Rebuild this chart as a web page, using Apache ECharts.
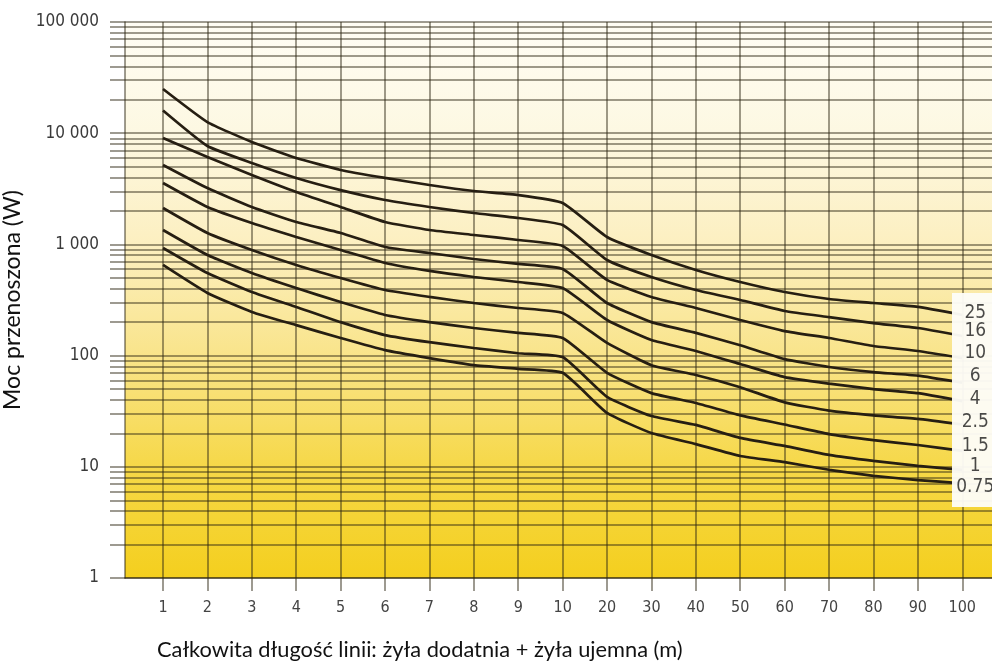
<!DOCTYPE html>
<html>
<head>
<meta charset="utf-8">
<script src="https://cdn.jsdelivr.net/npm/echarts@6/dist/echarts.min.js"></script>
<style>html,body{margin:0;padding:0;background:#fff}#c{width:992px;height:665px}</style>
</head>
<body>
<div id="c"></div>
<script>
// Categories (total line length, m)
const lengths = ['1','2','3','4','5','6','7','8','9','10','20','30','40','50','60','70','80','90','100'];
// Cable cross-sections (mm²) – curve labels
const sections = ['25','16','10','6','4','2.5','1.5','1','0.75'];
// Transmitted power (W) per cross-section
const p25   = [25000,12600,8340,5990,4670,3960,3420,3020,2780,2360,1165,803,589,459,373,323,297,274,232];
const p16   = [16000,7670,5400,3960,3080,2510,2170,1915,1727,1493,724,509,389,316,252,222,196,177,150];
const p10   = [9060,6110,4210,2960,2170,1590,1347,1215,1096,968,479,337,268,209,166,144,122,110,95];
const p6    = [5180,3210,2170,1590,1267,948,837,739,667,601,297,200,160,124,93,79,71,66,57];
const p4    = [3565,2170,1557,1167,891,681,577,509,459,405,209,138,110,84,64,56,50,46,39];
const p2_5  = [2125,1267,891,653,499,389,337,297,268,242,130,82,67,52,38,32,29,27,24];
const p1_5  = [1347,803,553,405,303,232,200,177,160,144,70,46,37.5,29,24,19.7,17.4,15.7,13.9];
const p1    = [929,553,373,274,200,153,132,117,105,97,42.5,28.6,23.8,18.2,15.4,12.8,11.3,10.2,9.4];
const p0_75 = [653,366,247,188,144,112,95,82,76,70,30.5,20.1,16.0,12.5,11.0,9.4,8.3,7.6,7.1];
// Y axis grid values and tick labels
const yGridValues = [1,2,3,4,5,6,7,8,9,10,20,30,40,50,60,70,80,90,100,200,300,400,500,600,700,800,900,
  1000,2000,3000,4000,5000,6000,7000,8000,9000,10000,20000,30000,40000,50000,60000,70000,80000,90000,100000];
const yLabelValues = [1,10,100,1000,10000,100000];
const yLabelTexts  = ['1','10','100','1 000','10 000','100 000'];

const allSeries = [p25,p16,p10,p6,p4,p2_5,p1_5,p1,p0_75];
const labelDy = [-2,-5,-5,-7,-2,-2,-5,-4,4];

const narrow = "'Liberation Sans Narrow','DejaVu Sans Condensed','Roboto Condensed',Roboto,sans-serif";
const gridColor = 'rgba(45,38,20,0.62)';
const xIdx = lengths.map((_, i) => i);

const chart = echarts.init(document.getElementById('c'), null, {renderer: 'canvas'});

const lineSeries = allSeries.map((arr, k) => ({
  type: 'line',
  name: sections[k],
  data: arr.map((v, i) => [i, v]),
  smooth: 0.15,
  symbol: 'none',
  lineStyle: {color: '#261e12', width: 2.7},
  z: 2,
  silent: true
}));

const labelSeries = {
  type: 'scatter',
  z: 10,
  symbolSize: 2,
  itemStyle: {color: 'rgba(0,0,0,0)'},
  silent: true,
  data: allSeries.map((arr, k) => ({
    name: sections[k],
    value: [lengths.length - 1, arr[arr.length - 1]],
    label: {position: [14, 1 + labelDy[k]]}
  })),
  label: {
    show: true,
    align: 'center',
    verticalAlign: 'middle',
    formatter: '{b}',
    color: '#1c1c1c',
    fontSize: 19,
    fontFamily: narrow
  },
  labelLayout: {hideOverlap: false}
};

chart.setOption({
  animation: false,
  backgroundColor: '#ffffff',
  grid: {
    left: 125, right: 0, top: 22, bottom: 87,
    containLabel: false,
    outerBoundsMode: 'none',
    show: true, borderWidth: 0,
    backgroundColor: {
      type: 'linear', x: 0, y: 0, x2: 0, y2: 1,
      colorStops: [
        {offset: 0, color: '#fffdf4'},
        {offset: 0.2, color: '#fdf8e2'},
        {offset: 0.4, color: '#fcefc0'},
        {offset: 0.6, color: '#f9e48a'},
        {offset: 0.8, color: '#f6d848'},
        {offset: 1, color: '#f4cf1e'}
      ]
    }
  },
  xAxis: {
    type: 'value',
    min: -0.856,
    max: 18.67,
    axisLine: {show: true, onZero: false, lineStyle: {color: gridColor, width: 1.5}},
    axisTick: {show: true, length: 13, customValues: xIdx, lineStyle: {color: gridColor, width: 1.5}},
    axisLabel: {
      customValues: xIdx,
      formatter: v => lengths[Math.round(v)],
      margin: 22,
      color: '#444',
      fontSize: 16,
      fontFamily: narrow
    },
    splitLine: {show: true, lineStyle: {color: gridColor, width: 1.5}}
  },
  yAxis: {
    type: 'log',
    logBase: 10,
    min: 1,
    max: 100000,
    name: 'Moc przenoszona (W)',
    nameLocation: 'middle',
    nameGap: 101,
    nameRotate: 90,
    nameTextStyle: {fontFamily: 'Lato, sans-serif', fontSize: 23, color: '#111'},
    axisLine: {show: true, onZero: false, lineStyle: {color: gridColor, width: 1.5}},
    axisTick: {show: true, length: 15, customValues: yGridValues, lineStyle: {color: gridColor, width: 1.5}},
    axisLabel: {
      customValues: yLabelValues,
      formatter: v => { const j = yLabelValues.indexOf(Math.round(v)); return j >= 0 ? yLabelTexts[j] : ''; },
      margin: 26,
      color: '#3a3a3a',
      fontSize: 17,
      fontFamily: narrow
    },
    splitLine: {show: true, lineStyle: {color: gridColor, width: 1.5}}
  },
  graphic: [
    {
      type: 'rect', right: 0, top: 293, z: 5,
      shape: {width: 40, height: 214},
      style: {fill: 'rgba(253,252,247,0.96)'}
    },
    {
      type: 'text', left: 157, top: 639, z: 5,
      style: {
        text: 'Całkowita długość linii: żyła dodatnia + żyła ujemna (m)',
        fontFamily: 'Lato, sans-serif', fontSize: 21.8, fill: '#111'
      }
    }
  ],
  series: lineSeries.concat([labelSeries])
});
</script>
</body>
</html>
